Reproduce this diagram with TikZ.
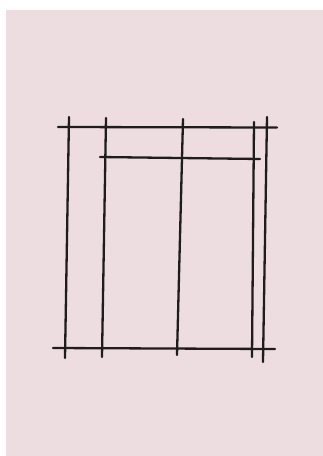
\documentclass[tikz,border=0pt]{standalone}
\definecolor{paper}{RGB}{238,221,224}
\definecolor{ink}{RGB}{30,28,29}
\begin{document}
\begin{tikzpicture}[x=1pt,y=-1pt,
  sketch/.style={draw=ink,line width=2.3pt,line cap=round}]
\useasboundingbox (0,0) rectangle (323,456);
\fill[white] (0,0) rectangle (323,456);
\fill[paper] (6,10) rectangle (323,456);
% horizontals
\coordinate (h1a) at (58,127); \coordinate (h1b) at (277,127.5);
\coordinate (h2a) at (100,157); \coordinate (h2b) at (260,159);
\coordinate (h3a) at (53,348); \coordinate (h3b) at (275,349);
\draw[sketch] (h1a) -- (h1b);
\draw[sketch] (h2a) -- (h2b);
\draw[sketch] (h3a) -- (h3b);
% verticals
\coordinate (v1a) at (69,117); \coordinate (v1b) at (65,358);
\coordinate (v2a) at (106,118); \coordinate (v2b) at (102,357);
\coordinate (v3a) at (183,119); \coordinate (v3b) at (177,355);
\coordinate (v4a) at (254,122); \coordinate (v4b) at (252,357);
\coordinate (v5a) at (267,117); \coordinate (v5b) at (263,362);
\draw[sketch] (v1a) -- (v1b);
\draw[sketch] (v2a) -- (v2b);
\draw[sketch] (v3a) -- (v3b);
\draw[sketch] (v4a) -- (v4b);
\draw[sketch] (v5a) -- (v5b);
\end{tikzpicture}
\end{document}
